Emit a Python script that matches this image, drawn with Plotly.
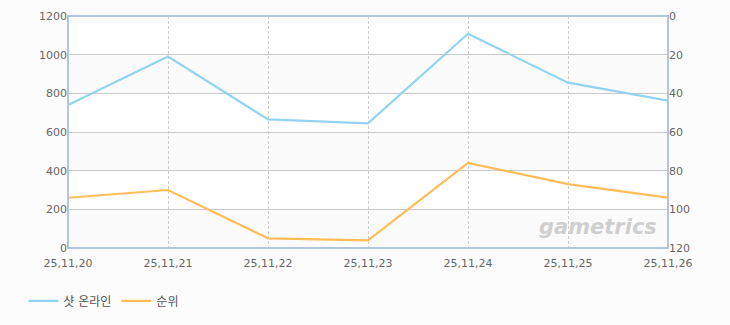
import plotly.graph_objects as go

dates = ["25,11,20", "25,11,21", "25,11,22", "25,11,23", "25,11,24", "25,11,25", "25,11,26"]
online = [740, 990, 665, 645, 1108, 855, 762]
rank = [94, 90, 115, 116, 76, 87, 94]
left_ticks = [0, 200, 400, 600, 800, 1000, 1200]
right_ticks = [0, 20, 40, 60, 80, 100, 120]

FONT = "DejaVu Sans, Noto Sans CJK KR"
fig = go.Figure()
fig.add_trace(go.Scatter(x=dates, y=online, name="샷 온라인", mode="lines",
                         line=dict(color="#93d3f2", width=2.2)))
fig.add_trace(go.Scatter(x=dates, y=rank, name="순위", mode="lines", yaxis="y2",
                         line=dict(color="#ffbd59", width=2.2)))

shapes = []
for i in range(len(left_ticks) - 1):
    if i % 2 == 0:
        shapes.append(dict(type="rect", xref="paper", yref="y", x0=0, x1=1,
                           y0=left_ticks[i], y1=left_ticks[i + 1],
                           fillcolor="#fbfbfb", line=dict(width=0), layer="below"))
# frame
shapes.append(dict(type="rect", xref="paper", yref="paper", x0=0, x1=1, y0=0, y1=1,
                   line=dict(color="#b3c6d9", width=2), layer="above"))

fig.update_layout(
    width=730, height=325,
    margin=dict(l=68, r=62, t=16, b=77, autoexpand=False),
    paper_bgcolor="#fcfcfc", plot_bgcolor="#ffffff",
    font=dict(family=FONT, size=11, color="#666666"),
    shapes=shapes,
    xaxis=dict(type="category", range=[0, 6], showgrid=True, gridcolor="#cccccc",
               griddash="3px,2px", gridwidth=1, zeroline=False, showline=False,
               ticks="outside", ticklen=5, tickcolor="rgba(0,0,0,0)",
               tickfont=dict(size=11, color="#666666")),
    yaxis=dict(range=[0, 1200], tickvals=left_ticks, showgrid=True, gridcolor="#c8c8c8",
               zeroline=False, showline=False, ticks="", tickfont=dict(size=11, color="#666666")),
    yaxis2=dict(range=[120, 0], tickvals=right_ticks, overlaying="y", side="right",
                showgrid=False, zeroline=False, showline=False, ticks="",
                tickfont=dict(size=11, color="#666666")),
    legend=dict(orientation="h", xref="container", yref="container",
                x=0.032, xanchor="left", y=0.074, yanchor="middle",
                font=dict(size=12, color="#555555"), bgcolor="rgba(0,0,0,0)",
                itemwidth=30),
    showlegend=True,
    annotations=[dict(text="<i><b>gametrics</b></i>", xref="paper", yref="paper",
                      x=0.985, y=0.03, xanchor="right", yanchor="bottom", showarrow=False,
                      font=dict(size=21, color="#cfcfcf", family="DejaVu Sans"))],
)
fig.write_html("out.html")
